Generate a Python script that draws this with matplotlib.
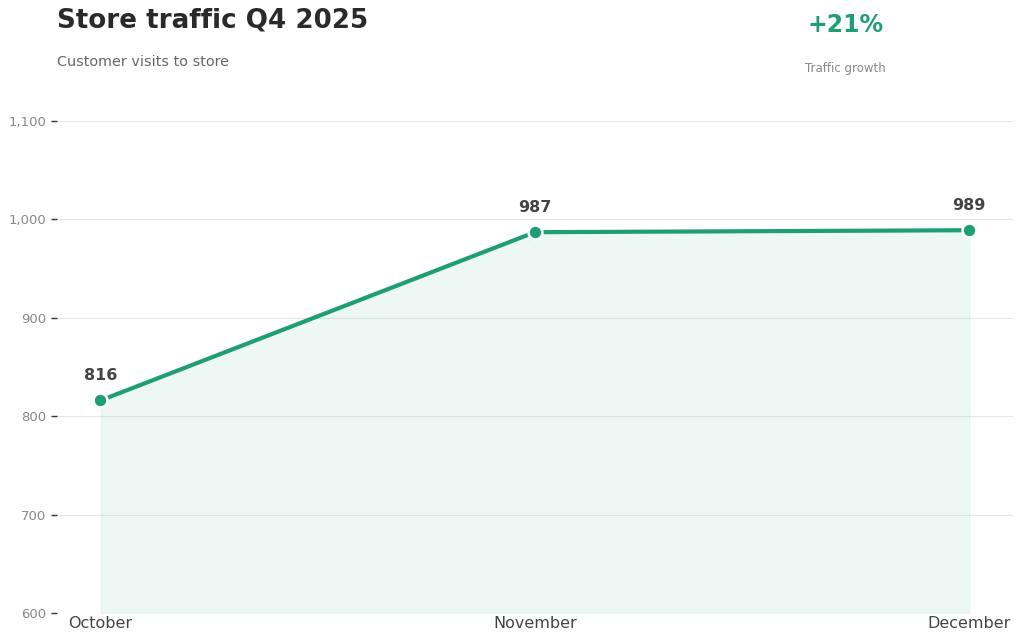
import matplotlib
matplotlib.use('Agg')
import matplotlib.pyplot as plt
import numpy as np

plt.rcParams['font.family'] = ['DejaVu Sans']

months = ['October', 'November', 'December']
visits = [816, 987, 989]
yticks = [600, 700, 800, 900, 1000, 1100]

GREEN = '#1f9e74'

fig = plt.figure(figsize=(10.24, 6.43), dpi=100)
ax = fig.add_axes([0.0557, 0.0467, 0.9333, 0.7651])

x = np.arange(len(months))
ax.fill_between(x, visits, 600, color=GREEN, alpha=0.08, edgecolor=GREEN,
                linewidth=0.6)
ax.plot(x, visits, color=GREEN, linewidth=3, zorder=3)
ax.plot(x, visits, 'o', color=GREEN, markersize=10, markeredgecolor='white',
        markeredgewidth=1.8, zorder=4)

for xi, v in zip(x, visits):
    ax.annotate(str(v), (xi, v), xytext=(0, 12.5), textcoords='offset points',
                ha='center', va='bottom', fontsize=11.5, fontweight='bold',
                color='#444444')

ax.set_xlim(-0.1, 2.1)
ax.set_ylim(600, 1100)
ax.set_yticks(yticks)
ax.set_yticklabels([f'{t:,}' for t in yticks])
ax.set_xticks(x)
ax.set_xticklabels(months)
ax.tick_params(axis='y', labelsize=9.5, labelcolor='#888888', color='#333333',
               length=4, width=1)
ax.tick_params(axis='x', labelsize=11.5, labelcolor='#444444', length=0, pad=2)
ax.grid(axis='y', color='#e6e6e6', linewidth=0.8)
ax.set_axisbelow(True)
for s in ax.spines.values():
    s.set_visible(False)

fig.text(0.0557, 0.968, 'Store traffic Q4 2025', fontsize=18.8, fontweight='bold',
         color='#2a2a2a', va='center', ha='left')
fig.text(0.0557, 0.903, 'Customer visits to store', fontsize=10.4, color='#666666',
         va='center', ha='left')
fig.text(0.826, 0.961, '+21%', fontsize=17, fontweight='bold', color=GREEN,
         ha='center', va='center')
fig.text(0.826, 0.894, 'Traffic growth', fontsize=8.5, color='#888888',
         ha='center', va='center')

plt.savefig('out.png', dpi=100)
